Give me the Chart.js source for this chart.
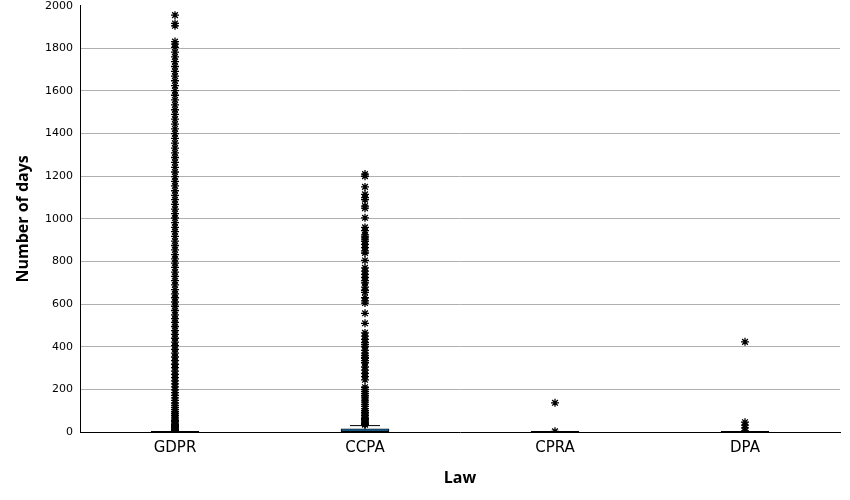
<!DOCTYPE html>
<html>
<head>
<meta charset="utf-8">
<script src="https://cdn.jsdelivr.net/npm/chart.js@4"></script>
<style>
  html, body { margin: 0; padding: 0; background: #fff; overflow: hidden; }
  #wrap { position: relative; top: -4px; width: 850px; height: 504px; }
</style>
</head>
<body>
<div id="wrap"><canvas id="boxChart"></canvas></div>
<script>
// box stats per law (days)
laws = ['GDPR', 'CCPA', 'CPRA', 'DPA'];
q1 = [0, 0, 0, 0];
medians = [0, 1, 0, 0];
q3 = [1, 15, 1, 1];
whiskerLow = [0, 0, 0, 0];
whiskerHigh = [1, 30, 1, 1];

// outliers
gdprOutliers = [5, 8, 12, 15, 20, 25, 30, 36, 42, 48, 55, 62, 70, 78, 86, 95, 105, 115, 125, 136,
  148, 160, 172, 185, 198, 212, 226, 240, 255, 270, 286, 302, 318, 335, 352, 370, 388, 405, 422, 440,
  458, 476, 495, 514, 532, 550, 570, 590, 610, 630, 648, 668, 690, 710, 730, 750, 772, 792, 812, 832,
  855, 875, 896, 918, 940, 960, 982, 1004, 1025, 1046, 1068, 1090, 1110, 1132, 1155, 1176, 1198, 1220,
  1242, 1265, 1288, 1310, 1332, 1355, 1378, 1400, 1422, 1445, 1468, 1490, 1512, 1535, 1558, 1580, 1602,
  1625, 1648, 1670, 1692, 1715, 1738, 1760, 1782, 1805, 1820, 1832, 1906, 1917, 1956];
ccpaOutliers = [1210, 1200, 1150, 1115, 1100, 1090, 1060, 1050, 1005, 960, 945, 925, 915, 905, 895,
  880, 865, 850, 840, 805, 770, 755, 740, 725, 710, 700, 680, 665, 655, 630, 615, 605, 557, 510,
  465, 450, 435, 420, 410, 400, 383, 370, 360, 350, 345, 335, 325, 305, 290, 275, 260, 245,
  210, 200, 190, 180, 170, 160, 150, 140, 130, 120, 110, 100, 92, 85, 78, 70, 64, 58, 52, 47, 42, 38, 34];
cpraOutliers = [137, 3];
dpaOutliers = [423, 46, 32, 19, 5];

allOutliers = [gdprOutliers, ccpaOutliers, cpraOutliers, dpaOutliers];
outlierPoints = [];
allOutliers.forEach((list, i) => {
    list.forEach(v => outlierPoints.push({ x: laws[i], y: v }));
});

boxColor = 'rgb(36, 152, 228)';

// whiskers and medians, drawn on top of the boxes
whiskerPlugin = {
    id: 'whiskers',
    afterDatasetDraw(chart, args) {
        if (args.index != 0) return;
        const ctx = chart.ctx;
        const xs = chart.scales.x;
        const ys = chart.scales.y;
        ctx.save();
        ctx.strokeStyle = '#000';
        ctx.lineWidth = 1;
        for (let i = 0; i < laws.length; i++) {
            const cx = xs.getPixelForValue(i);
            const top = ys.getPixelForValue(q3[i]);
            const hi = ys.getPixelForValue(whiskerHigh[i]);
            if (whiskerHigh[i] > q3[i]) {
                ctx.beginPath();
                ctx.moveTo(cx, top);
                ctx.lineTo(cx, hi);
                ctx.moveTo(cx - 15, hi);
                ctx.lineTo(cx + 15, hi);
                ctx.stroke();
            }
            const my = ys.getPixelForValue(medians[i]);
            ctx.lineWidth = 2;
            ctx.beginPath();
            ctx.moveTo(cx - 24, my);
            ctx.lineTo(cx + 24, my);
            ctx.stroke();
            ctx.lineWidth = 1;
        }
        ctx.restore();
    }
};

chart = new Chart(document.getElementById('boxChart'), {
    type: 'bar',
    data: {
        labels: laws,
        datasets: [{
            label: 'box',
            data: laws.map((l, i) => [q1[i], q3[i]]),
            backgroundColor: boxColor,
            borderColor: '#000',
            borderWidth: 1,
            borderSkipped: false,
            barThickness: 48,
            order: 2
        }, {
            type: 'line',
            label: 'outliers',
            data: outlierPoints,
            showLine: false,
            pointStyle: 'star',
            pointRadius: 4,
            pointBorderWidth: 1.3,
            pointBorderColor: '#000',
            pointBackgroundColor: '#000',
            order: 1
        }]
    },
    options: {
        responsive: true,
        maintainAspectRatio: false,
        animation: false,
        layout: { padding: { top: 0, right: 10, left: 0, bottom: 0 } },
        plugins: {
            legend: { display: false },
            tooltip: { enabled: false }
        },
        scales: {
            x: {
                grid: { display: false, drawTicks: false },
                border: { color: '#000', width: 1 },
                ticks: {
                    color: '#000',
                    padding: 7,
                    font: { family: 'DejaVu Sans', size: 15 }
                },
                title: {
                    display: true,
                    text: 'Law',
                    color: '#000',
                    font: { family: 'Open Sans', size: 16, weight: 'bold' },
                    padding: { top: 4, bottom: 12 }
                },
                afterFit: s => { s.height = 68; }
            },
            y: {
                min: 0,
                max: 2000,
                border: { color: '#000', width: 1 },
                grid: {
                    drawTicks: false,
                    color: c => (c.tick.value == 2000 || c.tick.value == 0) ? 'rgba(0,0,0,0)' : '#b0b0b0'
                },
                ticks: {
                    stepSize: 200,
                    color: '#000',
                    padding: 7,
                    font: { family: 'DejaVu Sans', size: 11, lineHeight: 0.5 },
                    callback: v => String(v)
                },
                title: {
                    display: true,
                    text: 'Number of days',
                    color: '#000',
                    font: { family: 'Open Sans', size: 16, weight: 'bold' },
                    padding: { top: 14, bottom: 4 }
                },
                afterFit: s => { s.width = 80; }
            }
        }
    },
    plugins: [whiskerPlugin]
});
</script>
</body>
</html>
